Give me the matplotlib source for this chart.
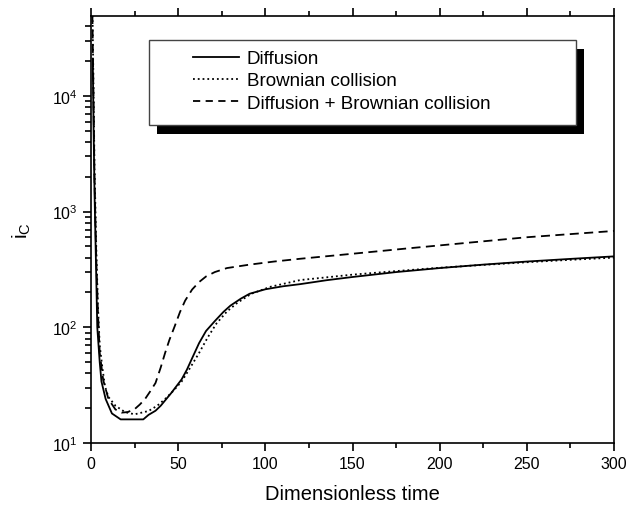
import numpy as np
import matplotlib.pyplot as plt
from matplotlib.patches import Rectangle
from matplotlib.lines import Line2D
from matplotlib.ticker import LogLocator, MultipleLocator, LogFormatterMathtext

plt.rcParams['font.family'] = ['Liberation Sans', 'DejaVu Sans']
plt.rcParams['mathtext.fontset'] = 'custom'
plt.rcParams['mathtext.rm'] = 'Liberation Sans'
plt.rcParams['mathtext.it'] = 'Liberation Sans:italic'

# values
t_diff = [1.0, 1.5, 2.0, 2.7, 3.6, 5, 6, 8.4, 12, 17, 30, 33, 37, 40, 46, 52, 55, 58, 62, 66, 71, 76, 80, 86, 91, 100,
          110, 120, 135, 150, 175, 200, 225, 250, 275, 300]
i_diff = [2.1e4, 5000, 1500, 460, 100, 50, 34, 24, 18, 16, 16, 17.5, 19, 21, 27, 35.5, 43, 54, 73, 93, 113, 136, 154, 177, 195, 213,
          226, 236, 255, 272, 300, 325, 348, 370, 390, 410]

t_brown = [0.8, 1.5, 2.0, 3, 4, 5, 6.5, 8, 10, 14, 19.5, 25, 33, 38, 42.5, 47, 52, 57, 62, 67, 72, 78, 84, 92, 103, 120,
           150, 175, 200, 225, 250, 275, 300]
i_brown = [6e4, 1e4, 2500, 500, 150, 70, 45, 31, 25, 21, 18.5, 17.7, 18.9, 21, 24, 28, 34, 45, 60, 82, 108, 137, 163, 195, 224, 256,
           285, 306, 327, 346, 365, 383, 400]

t_comb = [0.8, 1.5, 2.0, 3, 4, 5, 7, 10, 14, 17.6, 21, 25, 28, 31, 34, 37, 40, 42.5, 45, 48, 51, 54, 58, 62, 66, 71, 78, 91,
          105, 120, 150, 180, 210, 250, 300]
i_comb = [5e4, 8000, 2000, 400, 130, 60, 35, 24, 19.5, 18.3, 18.5, 19.6, 21.5, 24, 28, 33, 45, 60, 78, 102, 135, 170, 212, 246, 275, 300, 325, 348,
          370, 391, 432, 478, 527, 600, 680]

labels = ['Diffusion', 'Brownian collision', 'Diffusion + Brownian collision']

fig = plt.figure(figsize=(6.26, 5.10), dpi=100)
ax = fig.add_axes([91 / 626, 66 / 510, 523 / 626, 427 / 510])

ax.plot(t_diff, i_diff, color='black', ls='-', lw=1.3)
ax.plot(t_brown, i_brown, color='black', ls=':', lw=1.3)
ax.plot(t_comb, i_comb, color='black', ls='--', lw=1.3, dashes=(5, 3))

ax.set_yscale('log')
ax.set_xlim(0, 300)
ax.set_ylim(10, 4.9e4)
ax.xaxis.set_major_locator(MultipleLocator(50))
ax.xaxis.set_minor_locator(MultipleLocator(25))
ax.yaxis.set_major_locator(LogLocator(base=10, numticks=10))
ax.yaxis.set_minor_locator(LogLocator(base=10, subs=np.arange(2, 10), numticks=20))
ax.yaxis.set_major_formatter(LogFormatterMathtext())

ax.tick_params(which='both', direction='out', top=True, right=False, labelsize=11.5, width=1.2)
ax.tick_params(which='major', length=6)
ax.tick_params(which='minor', length=3.5)
ax.tick_params(axis='y', which='minor', length=4)
for s in ax.spines.values():
    s.set_linewidth(1.2)

ax.set_xlabel('Dimensionless time', fontsize=14.5, labelpad=9)
ax.set_ylabel(r'$\mathregular{i_C}$', fontsize=15, labelpad=14)

# legend box with black shadow
x0, x1, y0, y1 = 0.111, 0.927, 0.745, 0.944
ax.add_patch(Rectangle((x0 + 0.015, y0 - 0.022), x1 - x0, y1 - y0, transform=ax.transAxes,
                       facecolor='black', edgecolor='none', zorder=5))
ax.add_patch(Rectangle((x0, y0), x1 - x0, y1 - y0, transform=ax.transAxes,
                       facecolor='white', edgecolor='#444444', lw=1, zorder=6))
handles = [Line2D([], [], color='black', ls='-', lw=1.3),
           Line2D([], [], color='black', ls=':', lw=1.3),
           Line2D([], [], color='black', ls='--', lw=1.3, dashes=(4, 3))]
leg = ax.legend(handles, labels, loc='upper left', bbox_to_anchor=(0.162, 0.96), frameon=False,
                fontsize=13.5, handlelength=2.5, handletextpad=0.38, labelspacing=0.28)
leg.set_zorder(7)

fig.savefig('out.png', dpi=100)
